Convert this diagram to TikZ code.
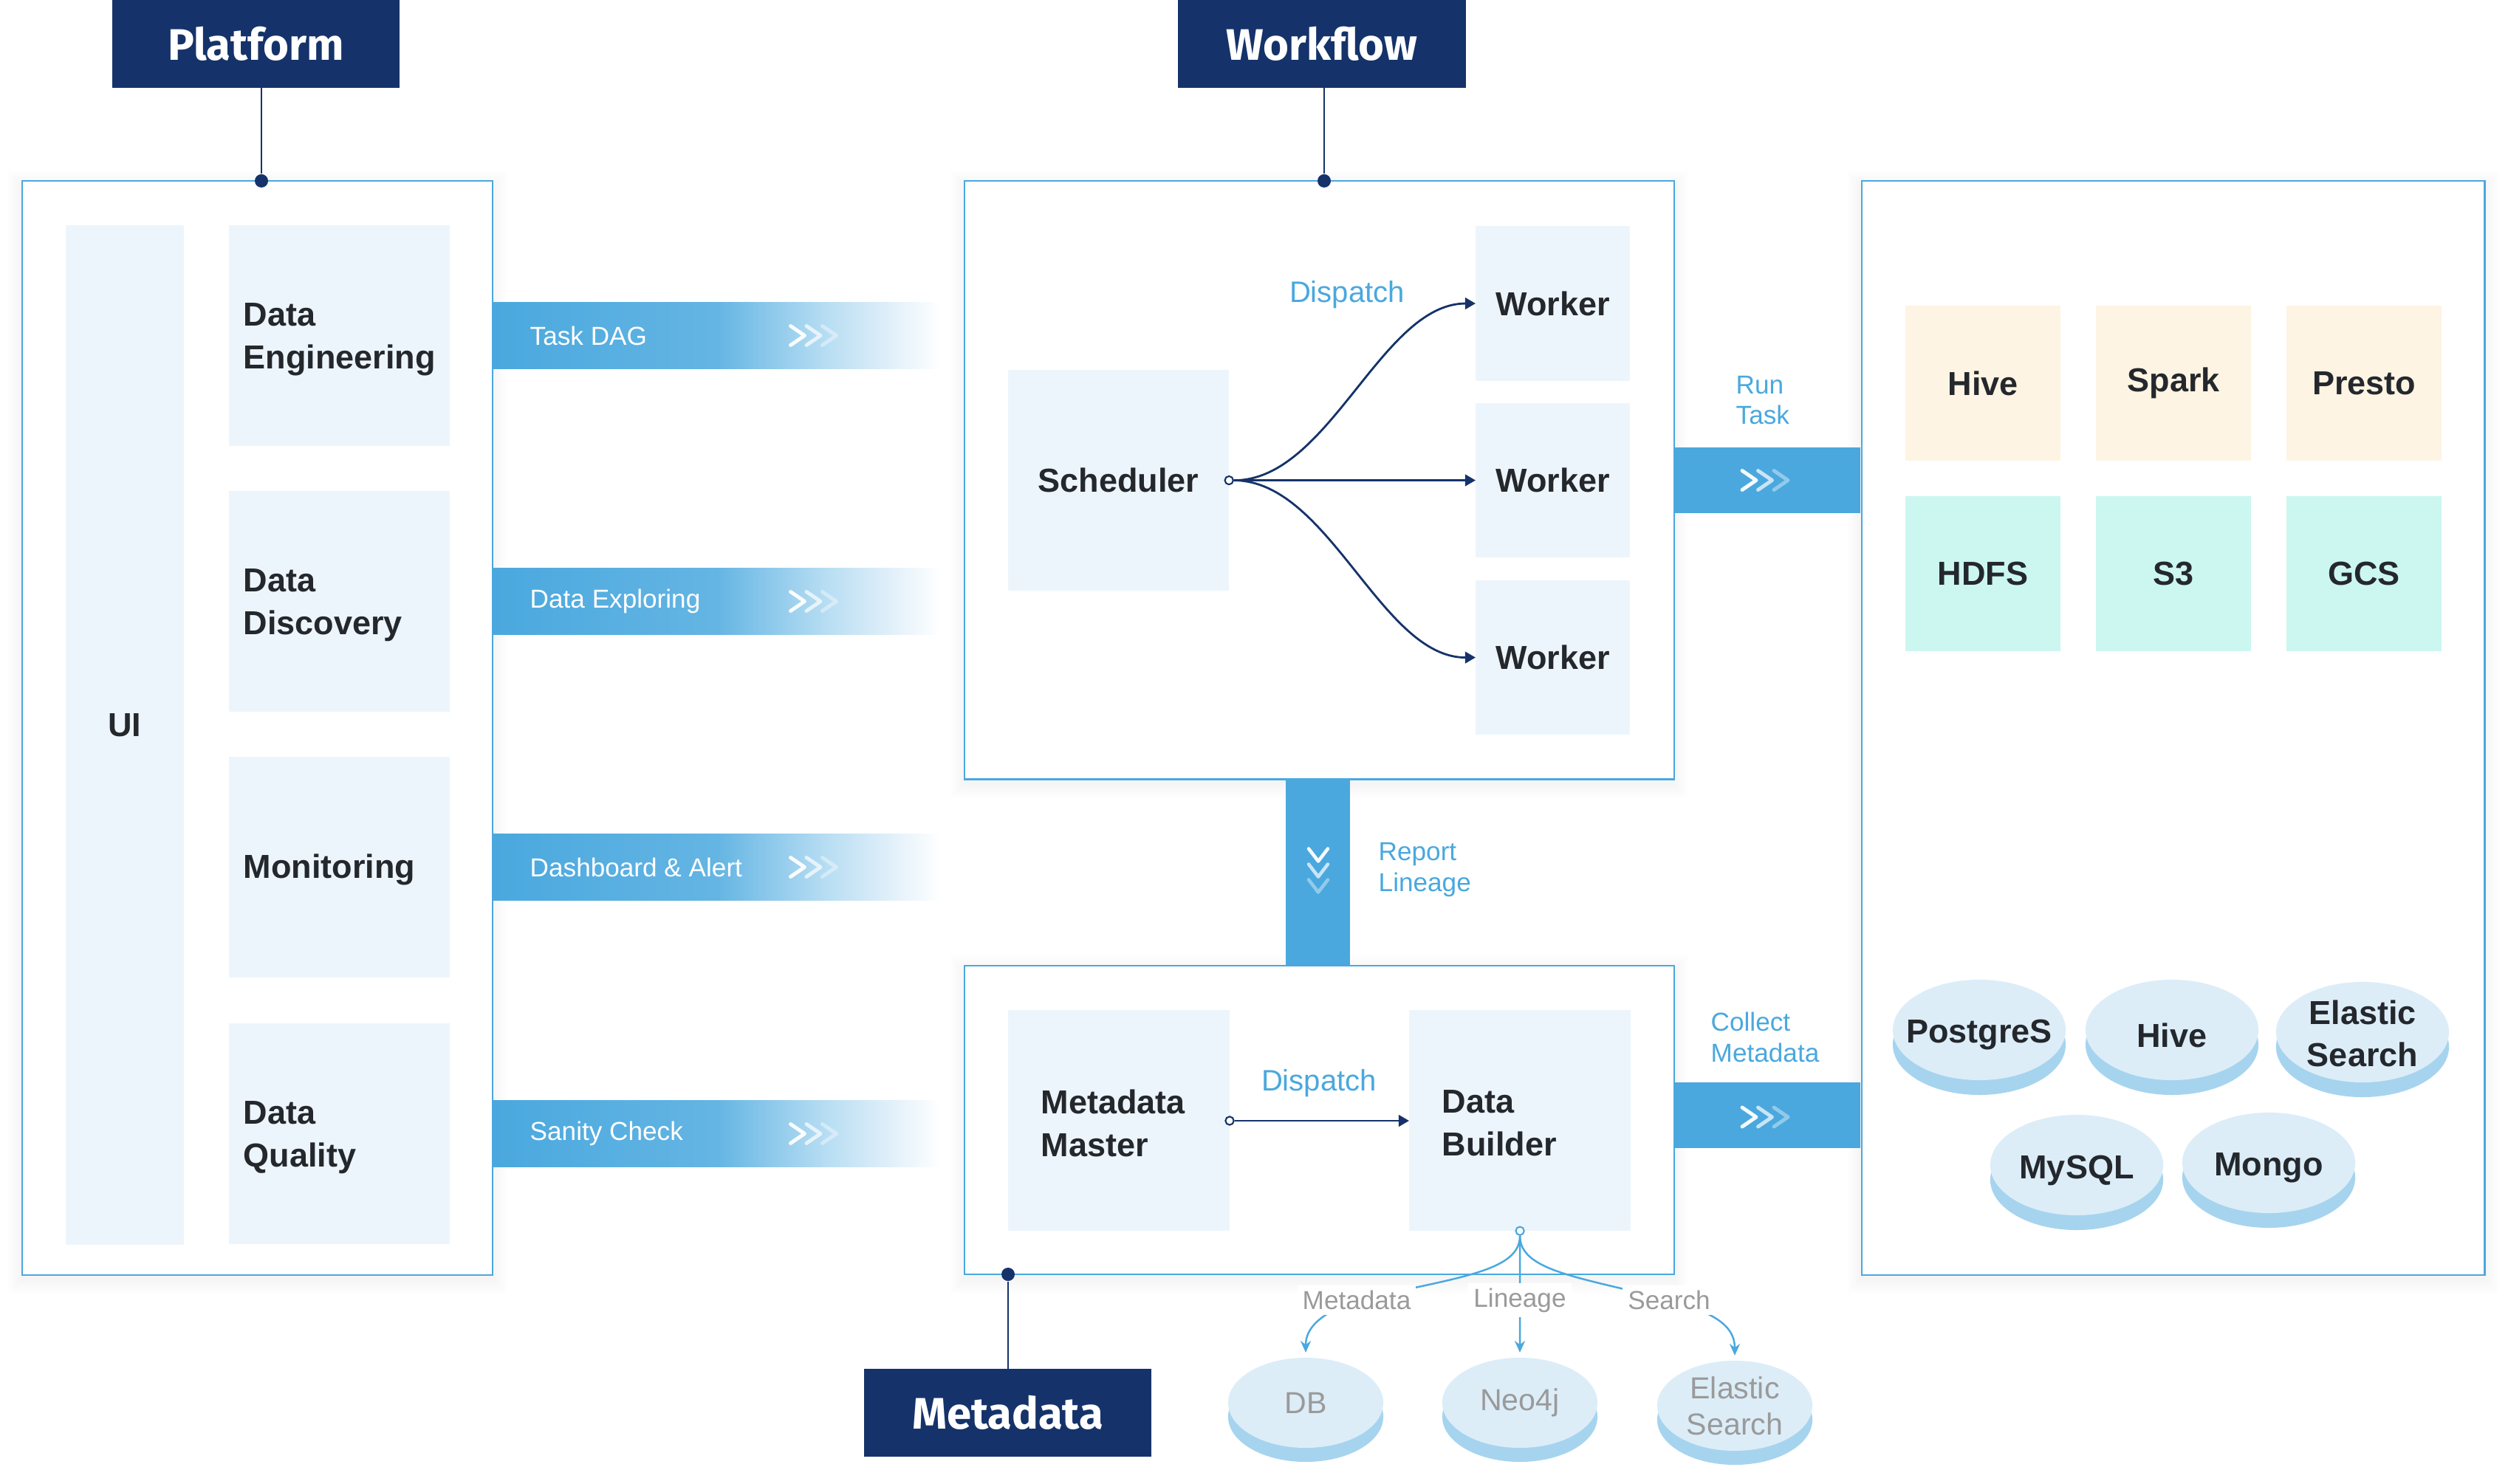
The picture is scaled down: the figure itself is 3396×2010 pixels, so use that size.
\documentclass[tikz,border=0pt]{standalone}
\usepackage{fontspec}
\setmainfont{Liberation Sans}
\newfontfamily\titlefont{Fira Sans}
\usetikzlibrary{arrows.meta,shapes.geometric}
\definecolor{navy}{HTML}{15336A}
\definecolor{lblue}{HTML}{4AA8DE}
\definecolor{bandB}{HTML}{64B5E3}
\definecolor{bandC}{HTML}{8DC9EB}
\definecolor{bandD}{HTML}{B9DEF3}
\definecolor{bandE}{HTML}{E4F1FA}
\definecolor{boxfill}{HTML}{EDF5FC}
\definecolor{txtdark}{HTML}{24282D}
\definecolor{cream}{HTML}{FEF4E3}
\definecolor{mint}{HTML}{CCF7F1}
\definecolor{cyltop}{HTML}{DCEDF8}
\definecolor{cylshade}{HTML}{A6D4EE}
\definecolor{graytxt}{HTML}{9A9A9A}
\pgfdeclarehorizontalshading{bandshade}{100bp}{color(0bp)=(lblue); color(25bp)=(lblue); color(50bp)=(bandB); color(56bp)=(bandC); color(62.5bp)=(bandD); color(70bp)=(bandE); color(75bp)=(white); color(100bp)=(white)}
\newcommand\softshadow[4]{\foreach \k in {1,...,10}{\fill[black,opacity=0.005] (#1-2*\k,#2-2*\k+6) rectangle (#3+2*\k,#4+2*\k+6);}}
\newcommand\cylinder[6]{%
  \fill[cylshade] (#2,#3+#6) ellipse [x radius=#4, y radius=#5];
  \node[ellipse, fill=cyltop, minimum width=2*#4, minimum height=2*#5, inner sep=0, outer sep=0] (#1) at (#2,#3) {};}
\tikzset{
  chevr/.pic={\foreach \i/\o in {0/0.95,1/0.7,2/0.4}{\draw[white, opacity=\o, line width=1.4pt, line cap=round, line join=round] ({\i*21.5-31},-13) -- ({\i*21.5-12},0) -- ({\i*21.5-31},13);}},
  chevd/.pic={\foreach \i/\o in {0/0.95,1/0.7,2/0.4}{\draw[white, opacity=\o, line width=1.3pt, line cap=round, line join=round] (-13,{\i*21-29.5}) -- (0,{\i*21-12.5}) -- (13,{\i*21-29.5});}}
}
\begin{document}
\begin{tikzpicture}[x=0.01cm,y=-0.01cm,
  title/.style={fill=navy, text=white, font=\titlefont\bfseries\fontsize{17pt}{20pt}\selectfont, minimum width=3.89cm, minimum height=1.19cm, inner sep=0, outer sep=0},
  panel/.style={draw=lblue, line width=0.6pt, fill=white, anchor=north west, inner sep=0, outer sep=0},
  box/.style={fill=boxfill, anchor=north west, inner sep=0, outer sep=0},
  btxt/.style={text=txtdark, font=\bfseries\fontsize{12.8pt}{16.5pt}\selectfont, align=left, inner sep=0},
  band/.style={shade, shading=bandshade, minimum width=6.06cm, minimum height=0.90cm, anchor=west, inner sep=0, outer sep=0},
  bandtxt/.style={text=white, font=\fontsize{10pt}{12pt}\selectfont, anchor=west, inner sep=0},
  bluelbl/.style={text=lblue, font=\fontsize{10pt}{11.7pt}\selectfont, align=left, anchor=west, inner sep=0},
  displbl/.style={text=lblue, font=\fontsize{11.4pt}{13pt}\selectfont, inner sep=0},
  graylbl/.style={text=graytxt, font=\fontsize{10pt}{12pt}\selectfont, fill=white, inner sep=2pt},
  cyltxt/.style={text=txtdark, font=\bfseries\fontsize{12.8pt}{16pt}\selectfont, align=center, inner sep=0, yshift=-0.07cm},
  cylgray/.style={text=graytxt, font=\fontsize{11.7pt}{14pt}\selectfont, align=center, inner sep=0},
  navyarrow/.style={navy, line width=0.8pt, -{Triangle[length=4pt,width=4.4pt]}},
  bluearrow/.style={lblue, line width=0.7pt, -{Stealth[length=4.5pt,width=4pt]}},
  startdot/.style={circle, draw=navy, fill=white, line width=0.6pt, minimum size=3.2pt, inner sep=0},
  enddot/.style={circle, fill=navy, minimum size=0.18cm, inner sep=0},
  solidband/.style={fill=lblue, inner sep=0, outer sep=0}
]
\useasboundingbox (0,0) rectangle (3396,2010);
\fill[white] (0,0) rectangle (3396,2010);

% shadows
\softshadow{30}{245}{667}{1726}
\softshadow{1306}{245}{2266}{1055}
\softshadow{1306}{1308}{2266}{1726}
\softshadow{2521}{245}{3364}{1726}

% panels
\node[panel, minimum width=6.37cm, minimum height=14.81cm] (lp) at (30,245) {};
\node[panel, minimum width=9.60cm, minimum height=8.10cm] (wp) at (1306,245) {};
\node[panel, minimum width=9.60cm, minimum height=4.18cm] (mp) at (1306,1308) {};
\node[panel, minimum width=8.43cm, minimum height=14.81cm] (rp) at (2521,245) {};

% titles
\node[title] (plat) at (346.5,59.5) {Platform};
\node[title] (wf) at (1790,59.5) {Workflow};
\node[title] (meta) at (1364.5,1913.5) {Metadata};
\node[enddot] (pd) at (354,245) {};
\draw[navy, line width=0.6pt] (pd) -- (pd |- plat.south);
\node[enddot] (wd) at (1793,245) {};
\draw[navy, line width=0.6pt] (wd) -- (wd |- wf.south);
\node[enddot] (md) at (1365,1726) {};
\draw[navy, line width=0.6pt] (md) -- (md |- meta.north);

% platform contents
\node[box, minimum width=1.60cm, minimum height=13.80cm] (ui) at (89,305) {};
\node[btxt] at (169,982) {UI};
\node[box, minimum width=2.99cm, minimum height=2.99cm] (de) at (310,305) {};
\node[box, minimum width=2.99cm, minimum height=2.99cm] (dd) at (310,665) {};
\node[box, minimum width=2.99cm, minimum height=2.99cm] (mo) at (310,1025) {};
\node[box, minimum width=2.99cm, minimum height=2.99cm] (dq) at (310,1386) {};
\node[btxt, anchor=west] at ([xshift=0.19cm,yshift=-0.05cm]de.west) {Data\\Engineering};
\node[btxt, anchor=west] at ([xshift=0.19cm,yshift=-0.05cm]dd.west) {Data\\Discovery};
\node[btxt, anchor=west] at ([xshift=0.19cm,yshift=-0.03cm]mo.west) {Monitoring};
\node[btxt, anchor=west] at ([xshift=0.19cm,yshift=-0.05cm]dq.west) {Data\\Quality};

% gradient bands
\node[band] (b1) at (667,454.5) {};
\node[band] (b2) at (667,814.5) {};
\node[band] (b3) at (667,1174.5) {};
\node[band] (b4) at (667,1535.5) {};
\node[bandtxt] at ([xshift=0.5cm]b1.west) {Task DAG};
\node[bandtxt] at ([xshift=0.5cm]b2.west) {Data Exploring};
\node[bandtxt] at ([xshift=0.5cm]b3.west) {Dashboard \& Alert};
\node[bandtxt] at ([xshift=0.5cm]b4.west) {Sanity Check};
\pic at (1101.5,454.5) {chevr};
\pic at (1101.5,814.5) {chevr};
\pic at (1101.5,1174.5) {chevr};
\pic at (1101.5,1535.5) {chevr};

% workflow contents
\node[box, minimum width=2.99cm, minimum height=2.99cm] (sch) at (1365,501) {};
\node[btxt] at (sch.center) {Scheduler};
\node[box, minimum width=2.09cm, minimum height=2.10cm] (w1) at (1998,306) {};
\node[box, minimum width=2.09cm, minimum height=2.09cm] (w2) at (1998,546) {};
\node[box, minimum width=2.09cm, minimum height=2.09cm] (w3) at (1998,786) {};
\node[btxt] at (w1.center) {Worker};
\node[btxt] at (w2.center) {Worker};
\node[btxt] at (w3.center) {Worker};
\node[startdot] (sd) at (sch.east) {};
\draw[navyarrow] (sd) .. controls (1800,651) and (1870,411) .. (w1.west);
\draw[navyarrow] (sd) -- (w2.west);
\draw[navyarrow] (sd) .. controls (1800,651) and (1870,891) .. (w3.west);
\node[displbl] at (1824,399) {Dispatch};

% run task
\node[solidband, minimum width=2.53cm, minimum height=0.89cm] (rt) at (2392.5,650.5) {};
\pic at (2390,650.5) {chevr};
\node[bluelbl] at (2350,542) {Run\\Task};

% report lineage
\node[solidband, minimum width=0.87cm, minimum height=2.53cm] (rl) at (1784.5,1181.5) {};
\pic at (1785,1179) {chevd};
\node[bluelbl] at (1866,1178) {Report\\Lineage};

% metadata contents
\node[box, minimum width=3.00cm, minimum height=2.99cm] (mm) at (1365,1368) {};
\node[box, minimum width=3.00cm, minimum height=2.99cm] (dbld) at (1908,1368) {};
\node[btxt, anchor=west] at (1409,1521) {Metadata\\Master};
\node[btxt, anchor=west] at (1952,1521) {Data\\Builder};
\node[startdot] (md2) at (1665,1518) {};
\draw[navyarrow] (md2) -- (1908,1518);
\node[displbl] at (1786,1467) {Dispatch};

% collect metadata
\node[solidband, minimum width=2.53cm, minimum height=0.89cm] (cm) at (2392.5,1510.5) {};
\pic at (2390,1513) {chevr};
\node[bluelbl] at (2316,1405) {Collect\\Metadata};

% compute/storage boxes
\node[box, fill=cream, minimum width=2.10cm, minimum height=2.10cm] (hv) at (2580,414) {};
\node[box, fill=cream, minimum width=2.10cm, minimum height=2.10cm] (sp) at (2838,414) {};
\node[box, fill=cream, minimum width=2.10cm, minimum height=2.10cm] (pr) at (3096,414) {};
\node[box, fill=mint, minimum width=2.10cm, minimum height=2.10cm] (hd) at (2580,672) {};
\node[box, fill=mint, minimum width=2.10cm, minimum height=2.10cm] (s3) at (2838,672) {};
\node[box, fill=mint, minimum width=2.10cm, minimum height=2.10cm] (gc) at (3096,672) {};
\node[btxt] at (hv.center) {Hive};
\node[btxt] at (sp.center) {Spark};
\node[btxt] at (pr.center) {Presto};
\node[btxt] at (hd.center) {HDFS};
\node[btxt] at (s3.center) {S3};
\node[btxt] at (gc.center) {GCS};

% source cylinders
\cylinder{pg}{2680}{1395}{1.17cm}{0.68cm}{20}
\cylinder{hv2}{2941}{1395}{1.17cm}{0.68cm}{20}
\cylinder{el}{3199}{1398}{1.17cm}{0.68cm}{20}
\cylinder{my}{2812}{1578}{1.17cm}{0.68cm}{20}
\cylinder{mg}{3072}{1575}{1.17cm}{0.68cm}{20}
\node[cyltxt] at (pg) {PostgreS};
\node[cyltxt] at (hv2) {Hive};
\node[cyltxt, yshift=0.05cm] at (el) {Elastic\\Search};
\node[cyltxt] at (my) {MySQL};
\node[cyltxt] at (mg) {Mongo};

% sink cylinders
\cylinder{cdb}{1768}{1900}{1.05cm}{0.61cm}{19}
\cylinder{cneo}{2058}{1900}{1.05cm}{0.61cm}{19}
\cylinder{ces}{2349}{1904}{1.05cm}{0.61cm}{19}
\node[cylgray] at (cdb) {DB};
\node[cylgray] at (cneo) {Neo4j};
\node[cylgray] at (ces) {Elastic\\Search};

% data builder outputs
\node[startdot, draw=lblue] (bc) at (dbld.south) {};
\coordinate (mlp) at (1837,1761);
\coordinate (llp) at (2058,1761);
\coordinate (slp) at (2260,1761);
\draw[bluearrow, shorten >=2pt] (bc) .. controls (2058,1722) and (1975,1730) .. (mlp) .. controls (1785,1780) and (1768,1800) .. (cdb.north);
\draw[bluearrow, shorten >=2pt] (bc) -- (llp) -- (cneo.north);
\draw[bluearrow, shorten >=2pt] (bc) .. controls (2058,1722) and (2141,1730) .. (slp) .. controls (2330,1780) and (2349,1800) .. (ces.north);
\node[graylbl] (ml) at (mlp) {Metadata};
\node[graylbl] (ll) at (llp) {Lineage};
\node[graylbl] (sl) at (slp) {Search};
\end{tikzpicture}
\end{document}
